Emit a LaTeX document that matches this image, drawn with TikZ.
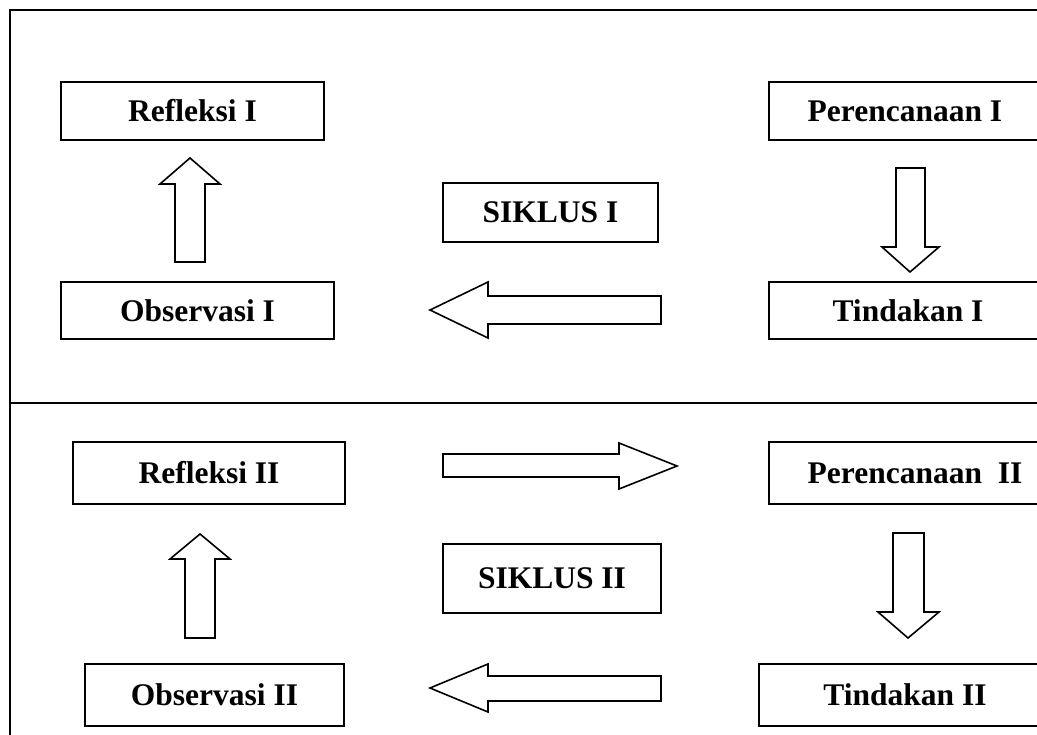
\documentclass[tikz,border=0pt]{standalone}
\usepackage{fontspec}
\setmainfont{Liberation Serif}
\begin{document}
\begin{tikzpicture}[x=1pt,y=-1pt,
  box/.style={draw, line width=2pt, rectangle, inner sep=0pt,
    font=\fontsize{31.5}{36}\selectfont\bfseries},
  barrow/.style={draw, line width=1.6pt, line join=miter},
  frame/.style={line width=2pt}]
\useasboundingbox (0,0) rectangle (1037,735);
\clip (0,0) rectangle (1037,735);
% frame
\draw[frame] (10,740) -- (10,10) -- (1045,10);
\draw[frame] (10,403) -- (1045,403);
% cycle I
\node[box, minimum width=263pt, minimum height=58pt] (ref1) at (192.5,111) {Refleksi I};
\node[box, minimum width=272pt, minimum height=58pt] (per1) at (905,111) {Perencanaan I};
\node[box, minimum width=215pt, minimum height=59pt] (sik1) at (550.5,212.5) {SIKLUS I};
\node[box, minimum width=273pt, minimum height=57pt] (obs1) at (197.5,310.5) {Observasi I};
\node[box, minimum width=278pt, minimum height=57pt] (tin1) at (908,310.5) {Tindakan I};
% cycle II
\node[box, minimum width=272pt, minimum height=62pt] (ref2) at (209,473) {Refleksi II};
\node[box, minimum width=292pt, minimum height=62pt] (per2) at (915,473) {Perencanaan\ \ II};
\node[box, minimum width=218pt, minimum height=69pt] (sik2) at (552,578.5) {SIKLUS II};
\node[box, minimum width=259pt, minimum height=62pt] (obs2) at (214.5,695) {Observasi II};
\node[box, minimum width=292pt, minimum height=62pt] (tin2) at (905,695) {Tindakan II};
% block arrows, cycle I
\draw[barrow] (175,262) -- (175,184) -- (160,184) -- (190,158) -- (220,184) -- (205,184) -- (205,262) -- cycle;
\draw[barrow] (896,168) -- (896,247) -- (882,247) -- (910,272) -- (939,247) -- (925,247) -- (925,168) -- cycle;
\draw[barrow] (661,296) -- (488,296) -- (488,282) -- (430,310) -- (488,338) -- (488,324) -- (661,324) -- cycle;
% block arrows, cycle II
\draw[barrow] (443,454) -- (619,454) -- (619,443) -- (677,466) -- (619,489) -- (619,477) -- (443,477) -- cycle;
\draw[barrow] (185,638) -- (185,559) -- (170,559) -- (200,534) -- (230,559) -- (215,559) -- (215,638) -- cycle;
\draw[barrow] (893,533) -- (893,612) -- (878,612) -- (908,638) -- (939,612) -- (924,612) -- (924,533) -- cycle;
\draw[barrow] (661,676) -- (488,676) -- (488,664) -- (430,688) -- (488,712) -- (488,701) -- (661,701) -- cycle;
\end{tikzpicture}
\end{document}
